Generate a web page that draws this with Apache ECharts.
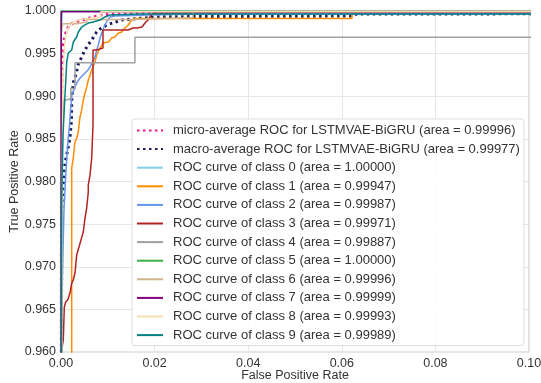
<!DOCTYPE html>
<html>
<head>
<meta charset="utf-8">
<script src="https://cdn.jsdelivr.net/npm/echarts@6/dist/echarts.min.js"></script>
<style>
  html, body { margin: 0; padding: 0; background: #fff; }
  #chart_container { width: 541px; height: 383px; }
</style>
</head>
<body>
<div id="chart_container"></div>
<script>
"use strict";

// axis ticks
const xTicks = [0, 0.02, 0.04, 0.06, 0.08, 0.1];
const yTicks = [0.96, 0.965, 0.97, 0.975, 0.98, 0.985, 0.99, 0.995, 1.0];

// legend labels
const curveNames = [
    "micro-average ROC for LSTMVAE-BiGRU (area = 0.99996)",
    "macro-average ROC for LSTMVAE-BiGRU (area = 0.99977)",
    "ROC curve of class 0 (area = 1.00000)",
    "ROC curve of class 1 (area = 0.99947)",
    "ROC curve of class 2 (area = 0.99987)",
    "ROC curve of class 3 (area = 0.99971)",
    "ROC curve of class 4 (area = 0.99887)",
    "ROC curve of class 5 (area = 1.00000)",
    "ROC curve of class 6 (area = 0.99996)",
    "ROC curve of class 7 (area = 0.99999)",
    "ROC curve of class 8 (area = 0.99993)",
    "ROC curve of class 9 (area = 0.99989)"
];

// ROC points [fpr, tpr]
const rocMicro = [[0, 0], [0.00006, 0.95789], [0.0001, 0.9837], [0.00015, 0.98956], [0.00021, 0.99343],
    [0.00032, 0.99484], [0.00049, 0.99601], [0.00085, 0.99718], [0.00122, 0.99765], [0.00156, 0.99812],
    [0.00229, 0.99848], [0.00335, 0.99877], [0.00449, 0.99894], [0.00656, 0.99924], [0.0087, 0.99953],
    [0.01047, 0.99959], [0.01902, 0.99973], [0.06325, 0.99977], [0.06325, 0.99992], [0.2, 0.99995], [1, 1]];

const rocMacro = [[0, 0], [0.0001, 0.95789], [0.00015, 0.97642], [0.00028, 0.97818], [0.00049, 0.97982],
    [0.00071, 0.98158], [0.00107, 0.98276], [0.00143, 0.9837], [0.00192, 0.9851], [0.00224, 0.98721],
    [0.00229, 0.98956], [0.00246, 0.99073], [0.00267, 0.99167], [0.00321, 0.99261], [0.0037, 0.99378],
    [0.00442, 0.9946], [0.00513, 0.99543], [0.00577, 0.99601], [0.00656, 0.9966], [0.00763, 0.99754],
    [0.00833, 0.99789], [0.00976, 0.99836], [0.01297, 0.99894], [0.01688, 0.99914], [0.02115, 0.99933],
    [0.06175, 0.99941], [0.06325, 0.99965], [0.3, 0.99975], [1, 1]];

const rocClass0 = [[0, 0], [0, 0.995], [0.0002, 1], [1, 1]];

const rocClass1 = [[0, 0], [0.0005, 0.9], [0.00229, 0.95789], [0.00229, 0.98158], [0.00263, 0.98276],
    [0.00284, 0.98393], [0.00299, 0.98463], [0.00335, 0.9851], [0.0037, 0.98581], [0.00385, 0.98663],
    [0.00406, 0.98757], [0.00442, 0.98839], [0.00476, 0.98956], [0.00513, 0.99038], [0.00549, 0.99108],
    [0.00583, 0.99191], [0.0062, 0.99249], [0.00656, 0.99308], [0.0069, 0.99355], [0.00726, 0.99402],
    [0.00763, 0.99484], [0.00833, 0.99566], [0.00904, 0.99625], [0.01011, 0.99636], [0.01083, 0.99683],
    [0.01154, 0.99695], [0.01224, 0.99742], [0.01297, 0.99754], [0.01368, 0.99801], [0.01438, 0.99836],
    [0.01511, 0.99894], [0.01581, 0.99912], [0.06218, 0.99912], [0.06218, 0.99982], [0.5, 0.99982], [1, 1]];

const rocClass2 = [[0, 0], [0.0001, 0.95789], [0.00021, 0.9661], [0.00043, 0.97196], [0.00064, 0.97666],
    [0.00096, 0.98018], [0.00128, 0.98311], [0.0016, 0.98545], [0.00182, 0.98663], [0.00203, 0.98839],
    [0.00224, 0.98956], [0.00235, 0.99038], [0.00278, 0.99073], [0.00335, 0.99155], [0.00406, 0.99214],
    [0.0047, 0.99249], [0.00534, 0.99284], [0.00577, 0.99308], [0.0062, 0.99343], [0.00662, 0.9939],
    [0.00726, 0.9946], [0.00763, 0.99543], [0.00797, 0.99601], [0.00833, 0.99683], [0.0087, 0.99742],
    [0.0094, 0.99836], [0.00983, 0.99883], [0.01047, 0.9993], [0.01154, 0.99941], [0.01902, 0.99953],
    [0.02756, 0.99965], [0.07885, 0.99965], [0.07885, 0.99982], [0.4, 0.99982], [1, 1]];

const rocClass3 = [[0, 0], [0.0001, 0.95789], [0.00015, 0.96023], [0.00049, 0.96141], [0.00071, 0.96528],
    [0.001, 0.96587], [0.00143, 0.9661], [0.00192, 0.96692], [0.00229, 0.96809], [0.00263, 0.96845],
    [0.00299, 0.96927], [0.00335, 0.97138], [0.00385, 0.97232], [0.00427, 0.97314], [0.00476, 0.97408],
    [0.00513, 0.97572], [0.00549, 0.97689], [0.00583, 0.97877], [0.00583, 0.97959], [0.0062, 0.98076],
    [0.00656, 0.98276], [0.00669, 0.98463], [0.00684, 0.98663], [0.00684, 0.99543], [0.00763, 0.99543],
    [0.00763, 0.99566], [0.00897, 0.99566], [0.00897, 0.99777], [0.01432, 0.99777], [0.01538, 0.99801],
    [0.01624, 0.99801], [0.01731, 0.99812], [0.01795, 0.99859], [0.01859, 0.99894], [0.01902, 0.9993],
    [0.01966, 0.99977], [0.01966, 0.99985], [0.04038, 0.99985], [0.04038, 1], [1, 1]];

const rocClass4 = [[0, 0], [0.0001, 0.97], [0.0003, 0.985], [0.0006, 0.9895], [0.0021, 0.9897],
    [0.0021, 0.9909], [0.003, 0.9909], [0.003, 0.99394], [0.0158, 0.99394], [0.0158, 0.99691],
    [0.33, 0.99691], [0.33, 1], [1, 1]];

const rocClass5 = [[0, 0], [0, 1], [1, 1]];

const rocClass6 = [[0, 0], [0.00005, 0.95], [0.00005, 0.99777], [0.0004, 0.99777], [0.0004, 0.9985],
    [0.0033, 0.9985], [0.0033, 0.9987], [0.0055, 0.9987], [0.0055, 0.999], [0.0145, 0.999],
    [0.0145, 0.9992], [0.0282, 0.9992], [0.0282, 1], [1, 1]];

const rocClass7 = [[0, 0], [0.00005, 0.998], [0.0001, 0.9999], [0.02, 0.9999], [0.02, 1], [1, 1]];

const rocClass8 = [[0, 0], [0.0002, 0.96], [0.0003, 0.985], [0.0004, 0.992], [0.0007, 0.9955],
    [0.001, 0.997], [0.0015, 0.998], [0.0025, 0.9986], [0.004, 0.999], [0.0085, 0.9993],
    [0.0085, 0.9999], [0.03, 0.9999], [0.03, 1], [1, 1]];

const rocClass9 = [[0, 0], [0.0001, 0.95789], [0.00015, 0.97783], [0.00032, 0.98252], [0.00043, 0.98545],
    [0.00064, 0.9878], [0.00085, 0.99015], [0.00107, 0.99226], [0.00122, 0.99402], [0.00156, 0.99507],
    [0.00229, 0.99543], [0.00263, 0.99636], [0.00335, 0.99695], [0.0037, 0.99754], [0.00442, 0.99812],
    [0.00513, 0.99836], [0.00583, 0.99859], [0.0069, 0.99871], [0.00833, 0.99894], [0.0094, 0.9993],
    [0.01047, 0.99953], [0.01688, 0.99965], [0.17, 0.99965], [0.17, 1], [1, 1]];

const curveData = [rocMicro, rocMacro, rocClass0, rocClass1, rocClass2, rocClass3, rocClass4,
    rocClass5, rocClass6, rocClass7, rocClass8, rocClass9];
const curveColors = ["#f0148c", "#1c1f5c", "#87ceeb", "#ff8c00", "#6495ed", "#b22222", "#a0a0a0",
    "#3cb043", "#d2b48c", "#800080", "#f5deb3", "#008080"];

const fontFam = "'Liberation Sans', Arial, sans-serif";

let series = curveData.map((d, i) => {
    const dotted = i < 2;
    return {
        name: curveNames[i],
        type: "line",
        data: d,
        symbol: "none",
        clip: true,
        animation: false,
        lineStyle: {
            color: curveColors[i],
            width: dotted ? 3 : 1.5,
            type: dotted ? [2.5, 3.5] : "solid"
        },
        // hide the legend's marker dot, keep only the line sample
        itemStyle: { color: curveColors[i], opacity: 0 }
    };
});

let option = {
    animation: false,
    backgroundColor: "#ffffff",
    grid: {
        left: 61, right: 12, top: 11, bottom: 31,
        containLabel: false, outerBoundsMode: "none",
        show: true, borderColor: "#cccccc", borderWidth: 1.2
    },
    xAxis: {
        type: "value", min: 0, max: 0.1, interval: 0.02,
        name: "False Positive Rate", nameLocation: "middle", nameGap: 17, nameMoveOverlap: false,
        nameTextStyle: { fontSize: 12.5, color: "#333", fontFamily: fontFam, verticalAlign: "top", padding: 0 },
        axisLine: { show: false }, axisTick: { show: false },
        axisLabel: { margin: 5, fontSize: 12.5, color: "#333", fontFamily: fontFam,
            formatter: v => v.toFixed(2) },
        splitLine: { lineStyle: { color: "#e6e6e6", width: 1 } }
    },
    yAxis: {
        type: "value", min: 0.96, max: 1.0, interval: 0.005,
        name: "True Positive Rate", nameLocation: "middle", nameGap: 40, nameMoveOverlap: false,
        nameTextStyle: { fontSize: 12.5, color: "#333", fontFamily: fontFam },
        axisLine: { show: false }, axisTick: { show: false },
        axisLabel: { margin: 5, fontSize: 12.5, color: "#333", fontFamily: fontFam,
            formatter: v => v.toFixed(3) },
        splitLine: { lineStyle: { color: "#e6e6e6", width: 1 } }
    },
    legend: {
        orient: "vertical", left: 132, top: 119,
        data: curveNames,
        backgroundColor: "rgba(255,255,255,0.85)",
        borderColor: "#dddddd", borderWidth: 1, borderRadius: 3,
        padding: [5, 4, 4, 4],
        itemWidth: 26, itemHeight: 14, itemGap: 5.6,
        itemStyle: { opacity: 0 },
        textStyle: { fontSize: 13, color: "#333", fontFamily: fontFam, padding: [0, 0, 0, 5] }
    },
    series: series
};

let chartDom = document.getElementById("chart_container");
let myChart = echarts.init(chartDom, null, { renderer: "canvas" });
myChart.setOption(option);
</script>
</body>
</html>
